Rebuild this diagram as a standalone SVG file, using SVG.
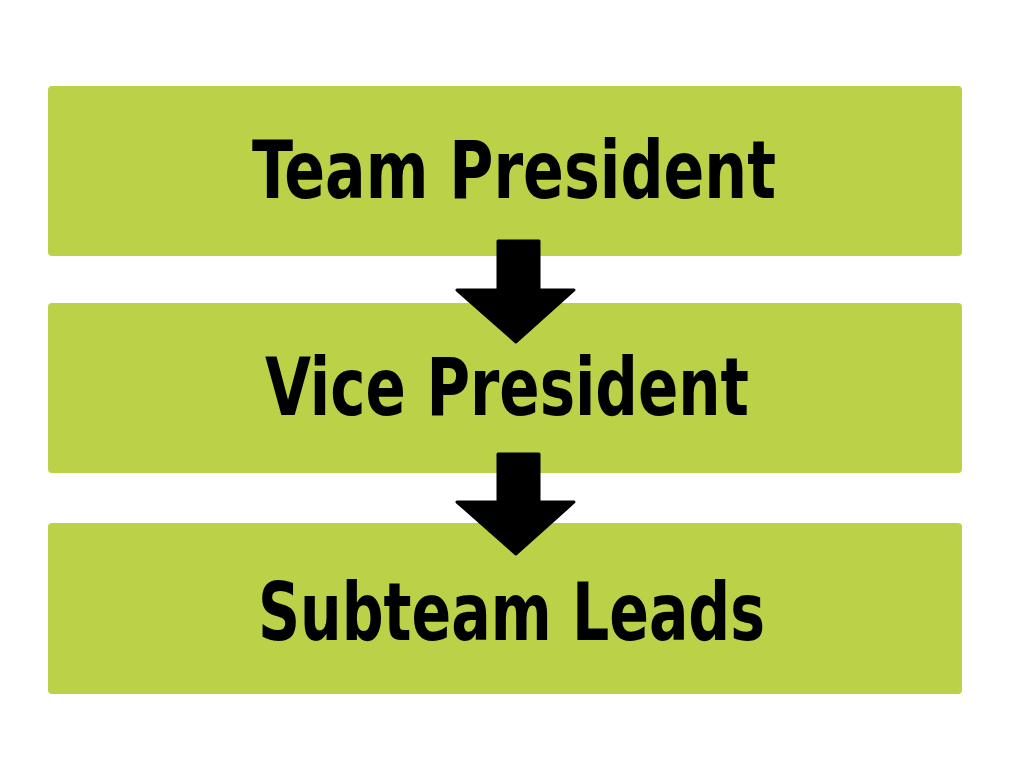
<svg xmlns="http://www.w3.org/2000/svg" width="1024" height="763" viewBox="0 0 1024 763">
<style>
.box{fill:#BBD147}
.t{font-family:"DejaVu Sans Condensed","DejaVu Sans",sans-serif;font-weight:bold;font-size:80px;fill:#000}
.arr{fill:#000;stroke:#000;stroke-width:3;stroke-linejoin:round}
</style>
<rect width="1024" height="763" fill="#fff"/>
<g id="n1"><rect class="box" x="48" y="86" width="914" height="170" rx="4"/><text class="t" x="252" y="198" textLength="524" lengthAdjust="spacingAndGlyphs">Team President</text></g>
<g id="n2"><rect class="box" x="48" y="303" width="914" height="170" rx="4"/><text class="t" x="265" y="415" textLength="484" lengthAdjust="spacingAndGlyphs">Vice President</text></g>
<g id="n3"><rect class="box" x="48" y="523" width="914" height="171" rx="4"/><text class="t" x="258" y="640" textLength="507" lengthAdjust="spacingAndGlyphs">Subteam Leads</text></g>
<g id="connectors">
<polygon class="arr" points="498,241 539,241 539,290 574,290 516,342 457,290 498,290"/>
<polygon class="arr" points="498,454 539,454 539,502 574,502 516,554 457,502 498,502"/>
</g>
</svg>
